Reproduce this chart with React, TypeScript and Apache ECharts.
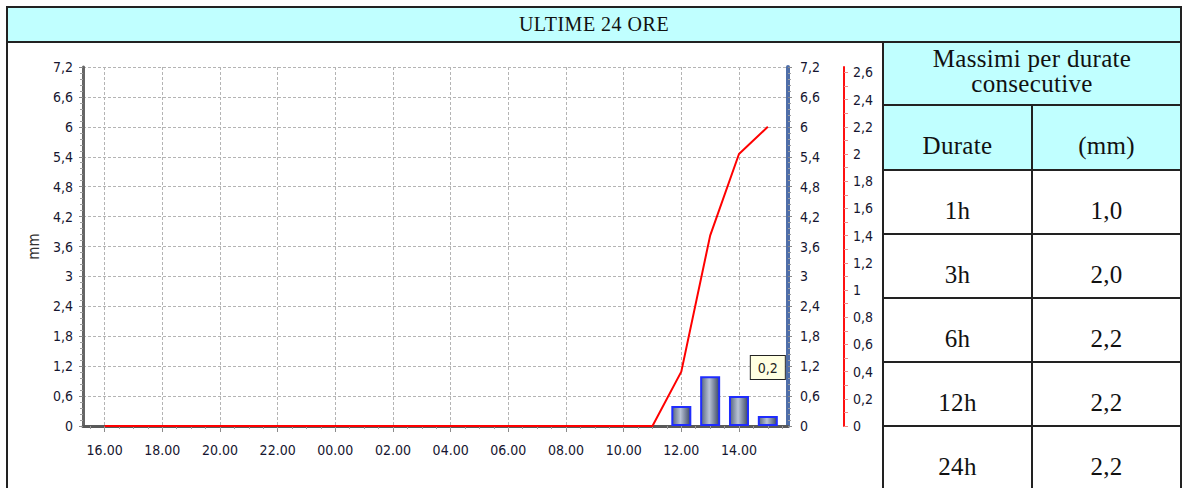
import React, { useEffect, useRef } from "react";
import * as echarts from "echarts";

// ---------- data ----------
const TITLE = "ULTIME 24 ORE";
// hours counted from 00:00 of the first day (16 = 16.00, 24 = 00.00 next day, 39 = 15.00 next day)
const HOURS = [16, 17, 18, 19, 20, 21, 22, 23, 24, 25, 26, 27, 28, 29, 30, 31, 32, 33, 34, 35, 36, 37, 38, 39];
const RAIN_MM = [0, 0, 0, 0, 0, 0, 0, 0, 0, 0, 0, 0, 0, 0, 0, 0, 0, 0, 0, 0, 0.4, 1.0, 0.6, 0.2];
const X_LABEL_HOURS = [16, 18, 20, 22, 24, 26, 28, 30, 32, 34, 36, 38];
const X_MIN = 15.25;
const X_MAX = 39.7;
const MM_MAX = 7.2;
const MM_STEP = 0.6;
const CUM_MAX = 2.64;
const CUM_LABELS = [0, 0.2, 0.4, 0.6, 0.8, 1, 1.2, 1.4, 1.6, 1.8, 2, 2.2, 2.4, 2.6];
const CUM_TICKS = [0, 0.1, 0.2, 0.3, 0.4, 0.5, 0.6, 0.7, 0.8, 0.9, 1, 1.1, 1.2, 1.3, 1.4, 1.5, 1.6, 1.7, 1.8, 1.9, 2, 2.1, 2.2, 2.3, 2.4, 2.5, 2.6];
const TIP_HOUR = 39;

const TABLE_HEAD = ["Massimi per durate", "consecutive"];
const TABLE_COLS = ["Durate", "(mm)"];
const DURATIONS = ["1h", "3h", "6h", "12h", "24h"];
const MAX_MM = ["1,0", "2,0", "2,2", "2,2", "2,2"];

// ---------- helpers ----------
const fmt = (v: number) => String(Math.round(v * 10) / 10).replace(".", ",");
const fmtHour = (v: number) => {
  const h = ((Math.round(v) % 24) + 24) % 24;
  return (h < 10 ? "0" : "") + h + ".00";
};

const CYAN = "#c0ffff";
const LINE = "#222";
const LABEL_COLOR = "#161630";
const SANS = "'DejaVu Sans Condensed', 'DejaVu Sans', sans-serif";
const SERIF = "'Liberation Serif', 'Times New Roman', serif";

function Cell(props: {
  x1: number; y1: number; x2: number; y2: number; bg?: string;
  children?: React.ReactNode; padTop?: number; padBottom?: number; fontSize?: number; spacing?: number;
}) {
  const { x1, y1, x2, y2, bg, children, padTop = 0, padBottom = 0, fontSize = 25, spacing = 0.3 } = props;
  return (
    <div
      style={{
        position: "absolute",
        left: x1 - 1,
        top: y1 - 1,
        width: x2 - x1 + 2,
        height: y2 - y1 + 2,
        boxSizing: "border-box",
        border: `2px solid ${LINE}`,
        background: bg || "#fff",
        display: "flex",
        flexDirection: "column",
        alignItems: "center",
        justifyContent: "center",
        paddingTop: padTop,
        paddingBottom: padBottom,
        fontFamily: SERIF,
        fontSize,
        letterSpacing: spacing,
        color: "#111",
        textAlign: "center",
        lineHeight: "25px",
      }}
    >
      {children}
    </div>
  );
}

export default function App() {
  const ref = useRef<HTMLDivElement>(null);

  useEffect(() => {
    if (!ref.current) return;
    const chart = echarts.init(ref.current, undefined, { renderer: "svg" });

    let run = 0;
    const cumulative = RAIN_MM.map((v) => {
      run = Math.round((run + v) * 10) / 10;
      return run;
    });
    const halfHours: number[] = [];
    for (let t = 15.5; t <= X_MAX; t += 0.5) halfHours.push(t);

    const labelStyle = { color: LABEL_COLOR, fontFamily: SANS, fontSize: 14 };

    const barData = HOURS.map((h, i) => ({ h, v: RAIN_MM[i] }))
      .filter((d) => d.v > 0)
      .map((d) =>
        d.h === TIP_HOUR
          ? {
              value: [d.h, d.v],
              label: {
                show: true,
                position: "top",
                distance: 37,
                formatter: (p: any) => fmt(p.value[1]),
                backgroundColor: "#ffffe1",
                borderColor: "#222",
                borderWidth: 1,
                padding: [5, 7, 4, 7],
                color: "#222",
                fontFamily: SANS,
                fontSize: 14,
              },
            }
          : { value: [d.h, d.v] }
      );

    const option: any = {
      animation: false,
      grid: { left: 83, right: 95, top: 25, bottom: 62, containLabel: false },
      xAxis: [
        {
          type: "value",
          min: X_MIN,
          max: X_MAX,
          position: "bottom",
          axisLine: { show: true, onZero: false, lineStyle: { color: "#595959", width: 3 } },
          axisTick: { show: true, customValues: X_LABEL_HOURS, length: 6, lineStyle: { color: "#8a8a8a" } },
          axisLabel: { customValues: X_LABEL_HOURS, formatter: fmtHour, margin: 17, ...labelStyle },
          splitLine: { show: true, lineStyle: { color: "#b4b4b4", type: [3, 2], width: 1 } },
        },
        {
          type: "value",
          min: X_MIN,
          max: X_MAX,
          position: "bottom",
          axisLine: { show: false },
          axisTick: { show: true, customValues: halfHours, length: 3, lineStyle: { color: "#9a9a9a" } },
          axisLabel: { show: false },
          splitLine: { show: false },
        },
      ],
      yAxis: [
        {
          type: "value",
          min: 0,
          max: MM_MAX,
          interval: MM_STEP,
          position: "left",
          name: "mm",
          nameLocation: "middle",
          nameGap: 42,
          nameTextStyle: { color: "#333", fontFamily: SANS, fontSize: 15 },
          axisLine: { show: true, onZero: false, lineStyle: { color: "#666", width: 3 } },
          axisTick: { show: true, length: 4, lineStyle: { color: "#8a8a8a" } },
          minorTick: { show: true, splitNumber: 5, length: 3, lineStyle: { color: "#a0a0a0" } },
          axisLabel: { formatter: fmt, margin: 10, ...labelStyle },
          splitLine: { show: true, lineStyle: { color: "#b4b4b4", type: [3, 2], width: 1 } },
        },
        {
          type: "value",
          min: 0,
          max: MM_MAX,
          interval: MM_STEP,
          position: "right",
          axisLine: { show: true, onZero: false, lineStyle: { color: "#4f6ea8", width: 4 } },
          axisTick: { show: true, length: 4, lineStyle: { color: "#8a8a8a" } },
          minorTick: { show: true, splitNumber: 5, length: 3, lineStyle: { color: "#a0a0a0" } },
          axisLabel: { formatter: fmt, margin: 12, ...labelStyle },
          splitLine: { show: false },
        },
        {
          type: "value",
          min: 0,
          max: CUM_MAX,
          position: "right",
          offset: 56,
          axisLine: { show: true, onZero: false, lineStyle: { color: "#ff1010", width: 2 } },
          axisTick: { show: true, customValues: CUM_TICKS, length: 4, lineStyle: { color: "#f08a8a" } },
          axisLabel: { customValues: CUM_LABELS, formatter: fmt, margin: 9, ...labelStyle },
          splitLine: { show: false },
        },
      ],
      series: [
        {
          type: "bar",
          xAxisIndex: 0,
          yAxisIndex: 0,
          barWidth: 20,
          data: barData,
          itemStyle: {
            color: new echarts.graphic.LinearGradient(0, 0, 1, 0, [
              { offset: 0, color: "#56657f" },
              { offset: 0.45, color: "#b9c3d6" },
              { offset: 1, color: "#3b4763" },
            ]),
            borderColor: "#1f2cff",
            borderWidth: 2,
          },
          z: 3,
        },
        {
          type: "line",
          xAxisIndex: 0,
          yAxisIndex: 2,
          data: HOURS.map((h, i) => [h, cumulative[i]]),
          symbol: "none",
          showSymbol: false,
          clip: false,
          lineStyle: { color: "#ff0000", width: 2 },
          z: 4,
        },
      ],
    };

    chart.setOption(option);
    return () => chart.dispose();
  }, []);

  const rowEdges = [170, 234, 298, 362, 426, 490];

  return (
    <div
      style={{
        position: "fixed",
        left: 0,
        top: 0,
        width: 1189,
        height: 488,
        background: "#fff",
        overflow: "hidden",
      }}
    >
      <div ref={ref} style={{ position: "absolute", left: 0, top: 42, width: 883, height: 446 }} />
      <div style={{ position: "absolute", left: 6, top: 41, width: 2, height: 460, background: LINE }} />
      <Cell x1={7} y1={7} x2={1181} y2={42} bg={CYAN} fontSize={20} spacing={0.5}>
        <span>{TITLE}</span>
      </Cell>
      <Cell x1={883} y1={42} x2={1181} y2={105} bg={CYAN} padBottom={6}>
        <div>{TABLE_HEAD[0]}</div>
        <div>{TABLE_HEAD[1]}</div>
      </Cell>
      <Cell x1={883} y1={105} x2={1032} y2={170} bg={CYAN} padTop={16}>
        {TABLE_COLS[0]}
      </Cell>
      <Cell x1={1032} y1={105} x2={1181} y2={170} bg={CYAN} padTop={16}>
        {TABLE_COLS[1]}
      </Cell>
      {DURATIONS.map((d, i) => (
        <React.Fragment key={d}>
          <Cell x1={883} y1={rowEdges[i]} x2={1032} y2={rowEdges[i + 1]} padTop={16}>
            {d}
          </Cell>
          <Cell x1={1032} y1={rowEdges[i]} x2={1181} y2={rowEdges[i + 1]} padTop={16}>
            {MAX_MM[i]}
          </Cell>
        </React.Fragment>
      ))}
    </div>
  );
}
